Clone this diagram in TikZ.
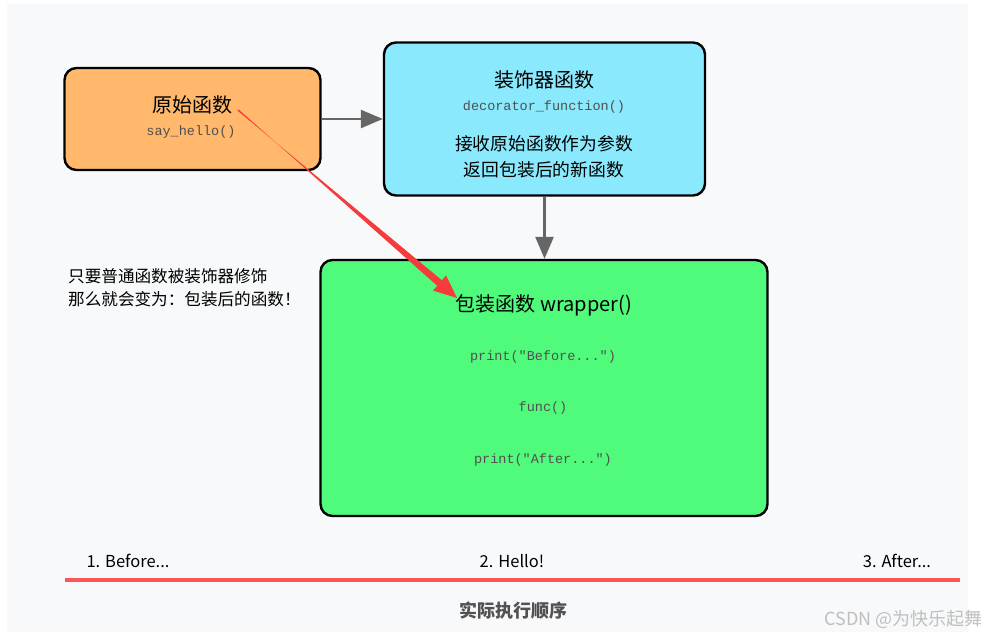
\documentclass[tikz,border=0pt]{standalone}
\usepackage{fontspec}
\setmainfont{Noto Sans CJK SC}
\setmonofont{Liberation Mono}
\usetikzlibrary{arrows.meta,calc}
\definecolor{bgc}{HTML}{F8F9FA}
\definecolor{origc}{HTML}{FFB86C}
\definecolor{decoc}{HTML}{8BE9FD}
\definecolor{wrapc}{HTML}{50FA7B}
\definecolor{redl}{HTML}{FF5555}
\definecolor{reda}{HTML}{F53B3B}
\definecolor{grayarrow}{HTML}{666666}
\definecolor{codec}{HTML}{505050}
\tikzset{
  fbox/.style={draw=black, line width=2.4pt, rounded corners=12pt, inner sep=0pt},
  ttl/.style={font=\fontsize{20}{23}\selectfont, text=black, inner sep=0pt},
  code/.style={font=\ttfamily\fontsize{13.5}{16}\selectfont, text=codec, inner sep=0pt},
  body/.style={font=\fontsize{17.8}{20}\selectfont, text=black, inner sep=0pt},
  note/.style={font=\fontsize{16.6}{23}\selectfont, text=black, inner sep=0pt, align=left, anchor=north west},
  seq/.style={font=\fontsize{16.5}{20}\selectfont, text=black, inner sep=0pt},
  garrow/.style={draw=grayarrow, line width=2.6pt, -{Triangle[length=22pt,width=18pt]}}
}
\begin{document}
\begin{tikzpicture}[x=1pt,y=-1pt]
\useasboundingbox (0,0) rectangle (987,636);
\fill[bgc] (7,4) rectangle (968,632);

% boxes
\node[fbox, fill=origc, minimum width=256pt, minimum height=102pt] (orig) at (192.5,119) {};
\node[fbox, fill=decoc, minimum width=321pt, minimum height=153pt] (deco) at (544.5,119) {};
\node[fbox, fill=wrapc, minimum width=447pt, minimum height=256pt] (wrap) at (544,388) {};

% texts in original box
\node[ttl] (origt) at (192,105) {原始函数};
\node[code] (origc) at (191,132) {say\_hello()};

% texts in decorator box
\node[ttl] (decot) at (544,80) {装饰器函数};
\node[code] (decoc) at (544,107) {decorator\_function()};
\node[body] (decob1) at (544,144) {接收原始函数作为参数};
\node[body] (decob2) at (544,170) {返回包装后的新函数};

% texts in wrapper box
\node[ttl] (wrapt) at (544,305) {包装函数 wrapper()};
\node[code] (wrapc1) at (543,357) {print("Before...")};
\node[code] (wrapc2) at (543,408) {func()};
\node[code] (wrapc3) at (543,460) {print("After...")};

% side note
\node[note] (sidenote) at (68,268) {只要普通函数被装饰器修饰\\那么就会变为：包装后的函数！};

% connectors
\draw[garrow] (orig.east) -- (deco.west);
\draw[garrow] (deco.south) -- (deco.south |- wrap.north);

% red annotation arrow (tapered)
\coordinate (rs) at (238,110);
\coordinate (rt) at (457,298);
\coordinate (rb) at ($(rt)!23pt!(rs)$);
\fill[reda]
  ($(rs)!0.8pt!90:(rt)$) --
  ($(rb)!3.6pt!-90:(rt)$) --
  ($(rb)!10pt!-90:(rt)$) --
  (rt) --
  ($(rb)!10pt!90:(rt)$) --
  ($(rb)!3.6pt!90:(rt)$) --
  ($(rs)!0.8pt!-90:(rt)$) -- cycle;

% execution order
\node[seq] (s1) at (128,561) {1. Before...};
\node[seq] (s2) at (512,561) {2. Hello!};
\node[seq] (s3) at (897,561) {3. After...};
\coordinate (la) at (65,580);
\coordinate (lb) at (960,580);
\draw[redl, line width=4pt] (la) -- (lb);
\node[font=\fontsize{18}{20}\selectfont\bfseries, text=black!68, inner sep=0pt] (order) at (513,611) {实际执行顺序};

% watermark
\node[font=\fontsize{18}{20}\selectfont, text=black!25, inner sep=0pt, anchor=east] (wm) at (983,619) {CSDN @为快乐起舞};
\end{tikzpicture}
\end{document}
